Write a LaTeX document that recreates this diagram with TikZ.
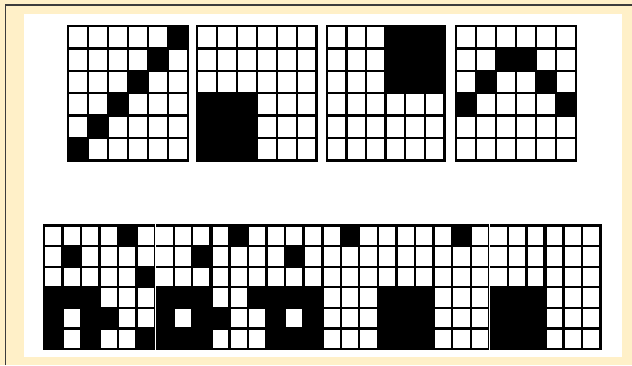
\documentclass[tikz,border=0pt]{standalone}
\definecolor{bgyellow}{RGB}{255,240,200}
\definecolor{framegray}{RGB}{60,60,60}
\tikzset{
  gridline/.style={line width=2.3pt, black, line cap=rect},
  midline/.style={line width=3.4pt, black},
  cell/.style={fill=black},
}
\newcommand{\cellgrid}[2]{% #1 columns, #2 rows
  \foreach \i in {0,...,#1} \draw[gridline] (\i,0) -- (\i,#2);
  \foreach \j in {0,...,#2} \draw[gridline] (0,\j) -- (#1,\j);
}
\begin{document}
\begin{tikzpicture}[x=1pt,y=-1pt]
\useasboundingbox (0,0) rectangle (632,365);
\fill[bgyellow] (0,0) rectangle (632,365);
\draw[line width=1.3pt, framegray] (5.5,365) -- (5.5,5) -- (632,5);
\fill[white] (24,14) rectangle (622,357);

% ---------- top row ----------
% grid 1: anti-diagonal
\begin{scope}[shift={(68,26)}, x=20.0pt, y=-22.4pt]
  \foreach \r/\c in {0/5,1/4,2/3,3/2,4/1,5/0}
    \fill[cell] (\c,\r) rectangle ++(1,1);
  \cellgrid{6}{6}
\end{scope}
% grid 2: lower-left block
\begin{scope}[shift={(197.2,26)}, x=19.9pt, y=-22.4pt]
  \fill[cell] (0,3) rectangle (3,6);
  \cellgrid{6}{6}
\end{scope}
% grid 3: upper-right block
\begin{scope}[shift={(326.8,26)}, x=19.6pt, y=-22.4pt]
  \fill[cell] (3,0) rectangle (6,3);
  \cellgrid{6}{6}
\end{scope}
% grid 4: inverted V
\begin{scope}[shift={(455.8,26)}, x=20.0pt, y=-22.4pt]
  \foreach \r/\c in {1/2,1/3,2/1,2/4,3/0,3/5}
    \fill[cell] (\c,\r) rectangle ++(1,1);
  \cellgrid{6}{6}
\end{scope}

% ---------- bottom row (30 columns) ----------
\begin{scope}[shift={(43.8,225.5)}, x=18.56pt, y=-20.6pt]
  % grid 1
  \foreach \r/\c in {0/4,1/1,2/5,3/0,3/1,3/2,4/0,4/2,4/3,5/0,5/2,5/5}
    \fill[cell] (\c,\r) rectangle ++(1,1);
  % grid 2
  \foreach \r/\c in {0/10,1/8,3/6,3/7,3/8,3/11,4/6,4/8,4/9,5/6,5/7,5/8}
    \fill[cell] (\c,\r) rectangle ++(1,1);
  % grid 3
  \foreach \r/\c in {0/16,1/13,3/12,3/13,3/14,4/12,4/14,5/12,5/13,5/14}
    \fill[cell] (\c,\r) rectangle ++(1,1);
  % grid 4
  \fill[cell] (22,0) rectangle ++(1,1);
  \fill[cell] (18,3) rectangle (21,6);
  % grid 5
  \fill[cell] (24,3) rectangle (27,6);
  % lines
  \cellgrid{30}{6}
  \foreach \k in {3,9,15,21,27}
    \draw[midline] (\k,0) -- (\k,6);
  \draw[line width=2.4pt] (0,0) rectangle (30,6);
  % small gaps between the separate boxes
  \draw[white, line width=0.6pt] (6,-0.07) -- (6,6.07);
  \draw[white, line width=0.6pt] (24,-0.07) -- (24,6.07);
\end{scope}
\end{tikzpicture}
\end{document}
